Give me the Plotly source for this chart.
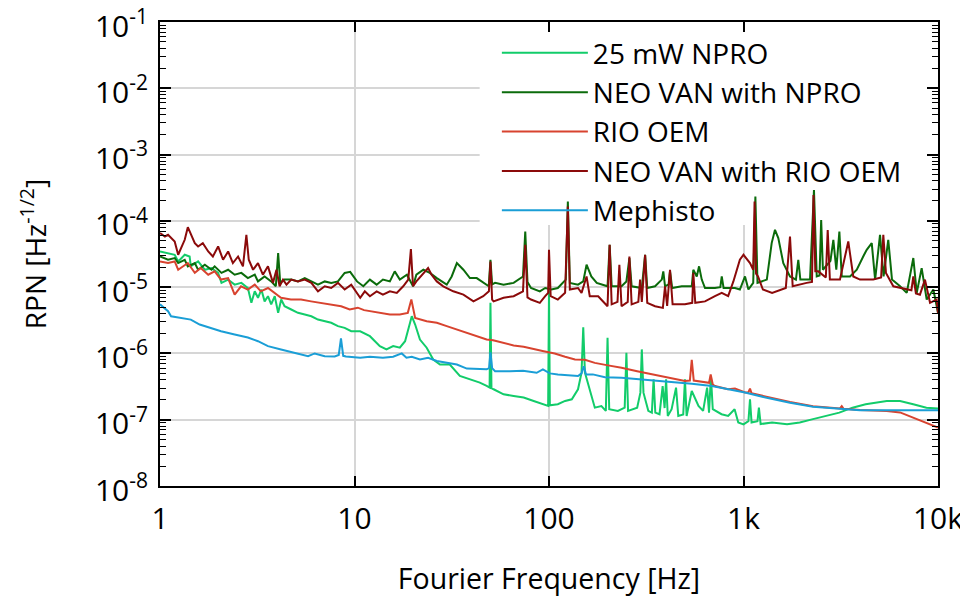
import plotly.graph_objects as go

# ---------------- data (frequency [Hz], RPN [Hz^-1/2]) ----------------
npro_25mw = [
    (1.0, 3.45e-5), (1.10, 3.27e-5), (1.19, 3.08e-5), (1.24, 2.44e-5), (1.34, 3.08e-5), (1.42, 2.9e-5),
    (1.44, 2.06e-5), (1.57, 2.44e-5), (1.70, 1.83e-5), (1.84, 1.94e-5), (1.99, 1.64e-5), (2.07, 1.16e-5),
    (2.24, 1.30e-5), (2.42, 1.09e-5), (2.62, 1.16e-5), (2.83, 9.7e-6), (2.95, 5.8e-6), (3.07, 8.65e-6),
    (3.19, 6.9e-6), (3.32, 9.2e-6), (3.45, 6.1e-6), (3.59, 7.3e-6), (3.73, 5.5e-6), (3.89, 7.3e-6),
    (4.05, 4.1e-6), (4.20, 6.5e-6), (4.37, 5.15e-6), (4.73, 4.6e-6), (5.12, 4.1e-6), (5.55, 3.86e-6),
    (6.00, 3.64e-6), (6.49, 3.24e-6), (7.03, 3.06e-6), (7.59, 2.9e-6), (8.22, 2.58e-6), (8.90, 2.43e-6),
    (9.62, 2.16e-6), (10.7, 2.16e-6), (12.0, 1.82e-6), (13.5, 1.29e-6), (14.6, 1.15e-6), (15.8, 1.29e-6),
    (17.1, 1.22e-6), (18.2, 1.53e-6), (19.3, 2.9e-6), (19.7, 3.64e-6), (20.5, 2.73e-6), (21.7, 1.62e-6),
    (23.5, 1.22e-6), (25.4, 8.1e-7), (27.5, 6.8e-7), (30.9, 6.8e-7), (34.8, 4.57e-7), (39.2, 4.07e-7),
    (44.1, 3.63e-7), (47.8, 3.23e-7), (49.5, 3.05e-7), (50.0, 5.8e-6), (50.6, 3.0e-7), (51.9, 2.88e-7),
    (58.4, 2.42e-7), (65.8, 2.28e-7), (74.1, 2.16e-7), (83.4, 1.92e-7), (93.9, 1.71e-7), (99.0, 1.62e-7),
    (100, 9.0e-6), (101, 1.65e-7), (111, 1.71e-7), (121, 1.92e-7), (131, 2.03e-7), (141, 2.88e-7),
    (147, 5.13e-7), (150, 2.48e-6), (153, 5.13e-7), (162, 2.88e-7), (172, 1.52e-7), (186, 1.61e-7),
    (196, 1.36e-7), (200, 1.72e-6), (204, 1.44e-7), (226, 1.36e-7), (245, 1.52e-7), (250, 1.02e-6),
    (255, 1.36e-7), (284, 1.52e-7), (295, 2.56e-7), (300, 1.15e-6), (306, 2.56e-7), (324, 1.36e-7),
    (338, 1.28e-7), (345, 4.07e-7), (352, 1.28e-7), (370, 1.21e-7), (384, 3.22e-7), (393, 1.5e-7),
    (400, 4.07e-7), (408, 1.14e-7), (427, 1.44e-7), (450, 3.05e-7), (462, 1.14e-7), (490, 1.2e-7),
    (500, 4.07e-7), (510, 1.14e-7), (542, 2.71e-7), (587, 1.61e-7), (620, 1.36e-7), (650, 3.05e-7),
    (665, 1.28e-7), (680, 4.56e-7), (695, 1.44e-7), (771, 1.21e-7), (834, 1.14e-7), (900, 1.44e-7),
    (940, 9.1e-8), (1000, 8.5e-8), (1060, 9.5e-8), (1080, 2.03e-7), (1100, 9.1e-8), (1180, 9.5e-8),
    (1200, 1.52e-7), (1225, 8.6e-8), (1403, 9.1e-8), (1675, 8.55e-8), (1947, 9.1e-8), (2276, 1.02e-7),
    (2660, 1.14e-7), (3109, 1.28e-7), (3634, 1.52e-7), (4247, 1.71e-7), (5450, 1.92e-7), (6380, 1.92e-7),
    (7460, 1.71e-7), (8720, 1.52e-7), (10000, 1.47e-7),
]

neo_van_npro = [
    (1.0, 2.9e-5), (1.10, 2.59e-5), (1.19, 2.75e-5), (1.24, 2.31e-5), (1.34, 2.59e-5), (1.39, 2.06e-5),
    (1.51, 2.31e-5), (1.57, 1.83e-5), (1.70, 2.18e-5), (1.84, 1.83e-5), (1.91, 2.06e-5), (2.07, 1.64e-5),
    (2.24, 1.83e-5), (2.42, 1.54e-5), (2.62, 1.64e-5), (2.83, 1.37e-5), (3.07, 1.54e-5), (3.19, 1.22e-5),
    (3.45, 1.45e-5), (3.73, 1.22e-5), (3.94, 1.03e-5), (4.05, 3.27e-5), (4.15, 1.16e-5), (4.37, 1.30e-5),
    (4.73, 1.30e-5), (5.12, 1.22e-5), (5.55, 1.37e-5), (6.00, 1.22e-5), (6.49, 1.09e-5), (7.03, 1.22e-5),
    (7.59, 1.16e-5), (8.22, 1.22e-5), (8.90, 1.64e-5), (9.5, 1.7e-5), (10.3, 1.22e-5), (11.1, 1.03e-5),
    (12.0, 1.30e-5), (13.0, 1.09e-5), (14.0, 1.30e-5), (15.2, 1.22e-5), (16.1, 1.73e-5), (17.1, 1.30e-5),
    (18.6, 1.54e-5), (20.0, 1.03e-5), (20.8, 1.54e-5), (22.6, 1.83e-5), (24.4, 1.64e-5), (26.5, 1.37e-5),
    (29.8, 1.09e-5), (31.6, 1.45e-5), (33.6, 2.31e-5), (36.3, 1.83e-5), (39.2, 1.37e-5), (42.5, 1.37e-5),
    (45.9, 1.16e-5), (49.0, 1.03e-5), (50.0, 2.59e-5), (51.0, 1.1e-5), (52.8, 1.16e-5), (58.4, 1.09e-5),
    (65.8, 1.16e-5), (73.5, 1.45e-5), (75.5, 6.9e-5), (77.5, 1.2e-5), (80.8, 9.7e-6), (89.7, 8.65e-6),
    (95.6, 9.7e-6), (103, 9.2e-6), (111, 9.7e-6), (122, 1.3e-5), (125, 1.95e-4), (128, 1.16e-5),
    (141, 1.09e-5), (150, 1.22e-5), (156, 2.18e-5), (165, 1.45e-5), (176, 1.16e-5), (186, 1.09e-5),
    (200, 1.03e-5), (205, 4.35e-5), (210, 1.03e-5), (236, 1.03e-5), (250, 1.22e-5), (259, 2.75e-5),
    (266, 1.03e-5), (300, 9.7e-6), (312, 3.08e-5), (320, 9.7e-6), (351, 1.03e-5), (380, 1.3e-5),
    (387, 1.73e-5), (395, 1.03e-5), (412, 1.1e-5), (419, 1.73e-5), (430, 9.7e-6), (481, 1.03e-5),
    (542, 1.03e-5), (552, 1.83e-5), (575, 1.45e-5), (591, 2.06e-5), (610, 1.3e-5), (634, 9.7e-6),
    (713, 9.7e-6), (760, 1.0e-5), (773, 1.45e-5), (790, 9.7e-6), (904, 9.7e-6), (958, 9.2e-6),
    (1018, 1.45e-5), (1060, 9.2e-6), (1122, 1.16e-5), (1151, 2.32e-4), (1180, 1.16e-5), (1318, 1.3e-5),
    (1396, 4.62e-5), (1452, 7.33e-5), (1510, 5.5e-5), (1602, 2.3e-5), (1734, 1.45e-5), (1860, 1.3e-5),
    (1913, 2.59e-5), (1960, 1.3e-5), (2198, 1.3e-5), (2303, 2.92e-4), (2380, 1.45e-5), (2460, 1.5e-5),
    (2508, 1.03e-4), (2560, 1.83e-5), (2800, 2.5e-5), (2897, 5.18e-5), (3000, 1.83e-5), (3111, 6.9e-5),
    (3200, 1.45e-5), (3530, 1.45e-5), (3823, 1.83e-5), (4150, 3.0e-5), (4300, 3.66e-5), (4564, 4.62e-5),
    (4750, 1.3e-5), (5033, 6.15e-5), (5250, 1.45e-5), (5550, 5.18e-5), (5800, 1.3e-5), (6383, 1.03e-5),
    (6906, 8.2e-6), (7466, 2.75e-5), (7776, 8.2e-6), (8241, 1.94e-5), (8750, 6.5e-6), (9463, 9.2e-6),
    (10000, 4.1e-6),
]

rio_oem = [
    (1.0, 2.44e-5), (1.10, 2.31e-5), (1.19, 2.44e-5), (1.24, 1.83e-5), (1.39, 2.31e-5), (1.51, 1.64e-5),
    (1.62, 1.94e-5), (1.77, 1.54e-5), (1.91, 1.73e-5), (2.06, 1.30e-5), (2.24, 1.37e-5), (2.42, 7.7e-6),
    (2.61, 1.03e-5), (2.83, 9.2e-6), (3.07, 1.09e-5), (3.30, 8.65e-6), (3.59, 9.7e-6), (3.89, 8.2e-6),
    (4.19, 6.9e-6), (4.71, 6.5e-6), (5.31, 6.5e-6), (5.98, 6.1e-6), (6.74, 5.8e-6), (7.59, 5.5e-6),
    (8.54, 5.15e-6), (9.45, 4.6e-6), (10.4, 4.9e-6), (11.2, 4.5e-6), (12.0, 4.33e-6), (13.5, 4.09e-6),
    (15.2, 3.86e-6), (17.1, 3.86e-6), (18.8, 4.09e-6), (19.6, 6.5e-6), (20.5, 3.44e-6), (23.5, 3.06e-6),
    (26.5, 2.9e-6), (29.8, 2.58e-6), (33.6, 2.3e-6), (37.8, 2.05e-6), (42.5, 1.82e-6), (47.8, 1.62e-6),
    (51.6, 1.58e-6), (58.4, 1.45e-6), (65.8, 1.32e-6), (74.1, 1.26e-6), (83.4, 1.18e-6), (93.9, 1.08e-6),
    (101, 1.03e-6), (107, 1.0e-6), (121, 8.9e-7), (136, 8.1e-7), (153, 8.0e-7), (172, 7.2e-7),
    (201, 6.6e-7), (236, 6.1e-7), (284, 5.4e-7), (324, 5.0e-7), (380, 4.57e-7), (427, 4.3e-7),
    (500, 3.84e-7), (530, 3.9e-7), (542, 8.0e-7), (555, 3.9e-7), (634, 3.63e-7), (665, 3.6e-7),
    (678, 4.83e-7), (695, 3.4e-7), (713, 3.23e-7), (832, 2.88e-7), (904, 2.95e-7), (1018, 2.57e-7),
    (1060, 2.6e-7), (1080, 2.95e-7), (1100, 2.5e-7), (1316, 2.2e-7), (1734, 1.85e-7), (2277, 1.6e-7),
    (3133, 1.48e-7), (3200, 1.6e-7), (3270, 1.46e-7), (3970, 1.4e-7), (5450, 1.35e-7), (6380, 1.29e-7),
    (7770, 1.02e-7), (10000, 7.6e-8),
]

neo_van_rio_oem = [
    (1.0, 6.53e-5), (1.06, 5.81e-5), (1.10, 6.15e-5), (1.14, 5.5e-5), (1.19, 4.89e-5), (1.24, 3.08e-5),
    (1.29, 4.11e-5), (1.34, 5.18e-5), (1.39, 8.03e-5), (1.45, 6.15e-5), (1.51, 4.62e-5), (1.57, 4.11e-5),
    (1.66, 4.62e-5), (1.77, 3.45e-5), (1.87, 2.9e-5), (1.99, 4.11e-5), (2.11, 2.59e-5), (2.24, 3.45e-5),
    (2.37, 2.31e-5), (2.52, 2.9e-5), (2.67, 2.06e-5), (2.78, 6.15e-5), (2.86, 2.59e-5), (3.01, 1.83e-5),
    (3.19, 2.31e-5), (3.38, 1.54e-5), (3.59, 2.06e-5), (3.81, 1.16e-5), (3.97, 1.83e-5), (4.12, 1.03e-5),
    (4.29, 1.3e-5), (4.47, 1.09e-5), (4.73, 1.3e-5), (5.12, 1.22e-5), (5.55, 1.3e-5), (6.00, 1.16e-5),
    (6.49, 8.65e-6), (7.03, 1.03e-5), (7.59, 9.7e-6), (8.22, 1.16e-5), (8.90, 9.2e-6), (9.62, 1.09e-5),
    (10.1, 8.65e-6), (10.7, 6.9e-6), (11.3, 8.65e-6), (12.0, 7.3e-6), (13.0, 8.65e-6), (14.0, 7.7e-6),
    (15.2, 8.65e-6), (16.5, 8.2e-6), (17.8, 1.03e-5), (18.9, 1.3e-5), (19.5, 3.75e-5), (20.0, 1.03e-5),
    (20.8, 1.22e-5), (22.6, 1.64e-5), (23.9, 1.94e-5), (24.9, 1.54e-5), (26.5, 1.22e-5), (28.6, 1.03e-5),
    (32.2, 8.65e-6), (36.3, 7.7e-6), (40.9, 6.1e-6), (45.9, 7.3e-6), (49.1, 8.65e-6), (50.0, 2.44e-5),
    (51.0, 6.5e-6), (51.9, 6.1e-6), (58.4, 6.9e-6), (65.8, 7.3e-6), (73.5, 8.65e-6), (75.5, 4.35e-5),
    (77.5, 7.0e-6), (80.8, 6.5e-6), (89.7, 5.8e-6), (95.6, 7.3e-6), (99, 8.2e-6), (100, 3.66e-5),
    (102, 7.3e-6), (111, 6.5e-6), (121, 8.2e-6), (125, 1.64e-4), (128, 9.2e-6), (141, 9.7e-6),
    (147, 8.2e-6), (156, 1.45e-5), (162, 7.3e-6), (179, 7.3e-6), (200, 5.15e-6), (205, 4.35e-5),
    (210, 5.5e-6), (225, 6.0e-6), (230, 2.18e-5), (236, 5.15e-6), (254, 6.0e-6), (259, 2.9e-5),
    (266, 5.5e-6), (288, 6.0e-6), (294, 1.3e-5), (300, 6.0e-6), (312, 3.08e-5), (320, 5.8e-6),
    (351, 5.15e-6), (385, 4.87e-6), (395, 1.03e-5), (405, 5.2e-6), (419, 1.83e-5), (432, 5.5e-6),
    (500, 5.5e-6), (545, 5.8e-6), (552, 1.64e-5), (565, 5.8e-6), (634, 6.1e-6), (713, 7.3e-6),
    (773, 8.2e-6), (834, 7.3e-6), (887, 1.22e-5), (958, 2.59e-5), (1000, 3.08e-5), (1080, 2.31e-5),
    (1122, 1.83e-5), (1140, 1.95e-4), (1160, 1.6e-5), (1188, 1.45e-5), (1258, 9.2e-6), (1403, 8.2e-6),
    (1650, 9.7e-6), (1734, 5.8e-5), (1790, 1.03e-5), (2113, 1.16e-5), (2250, 1.2e-5), (2290, 2.46e-4),
    (2340, 1.73e-5), (2425, 1.73e-5), (2650, 1.4e-5), (2710, 7.3e-5), (2780, 1.3e-5), (3133, 1.3e-5),
    (3457, 4.89e-5), (3667, 1.45e-5), (3970, 1.3e-5), (4647, 1.3e-5), (5100, 1.4e-5), (5234, 6.15e-5),
    (5400, 1.64e-5), (5893, 1.03e-5), (6906, 9.2e-6), (7300, 9.0e-6), (7466, 1.45e-5), (7700, 8.0e-6),
    (8075, 7.7e-6), (8570, 1.3e-5), (9100, 5.8e-6), (9840, 6.5e-6), (10000, 4.1e-6),
]

mephisto = [
    (1.0, 5.5e-6), (1.10, 4.33e-6), (1.14, 3.64e-6), (1.24, 3.48e-6), (1.44, 3.24e-6), (1.60, 2.73e-6),
    (1.77, 2.46e-6), (2.06, 2.16e-6), (2.42, 1.93e-6), (2.83, 1.74e-6), (3.19, 1.53e-6), (3.59, 1.29e-6),
    (4.19, 1.15e-6), (5.12, 1.0e-6), (5.77, 9.1e-7), (6.24, 1.0e-6), (7.03, 9.1e-7), (7.91, 9.0e-7),
    (8.3, 9.5e-7), (8.52, 1.68e-6), (8.75, 9.2e-7), (9.04, 9.0e-7), (10.7, 8.6e-7), (12.0, 8.9e-7),
    (14.0, 8.6e-7), (15.8, 8.9e-7), (17.5, 1.0e-6), (18.5, 8.6e-7), (19.7, 8.9e-7), (21.7, 8.1e-7),
    (23.9, 8.6e-7), (26.5, 7.7e-7), (29.8, 7.2e-7), (33.6, 6.8e-7), (37.8, 5.9e-7), (42.5, 5.75e-7),
    (47.8, 5.75e-7), (49.2, 6.0e-7), (50.0, 1.04e-6), (51.0, 6.0e-7), (52.8, 5.4e-7), (63, 5.4e-7),
    (73.5, 5.5e-7), (86.4, 5.1e-7), (93, 5.75e-7), (101, 5.0e-7), (111, 4.83e-7), (141, 4.57e-7),
    (147, 5.0e-7), (151, 6.4e-7), (155, 4.8e-7), (168, 4.83e-7), (194, 4.36e-7), (236, 4.3e-7),
    (300, 4.07e-7), (380, 3.84e-7), (460, 3.63e-7), (542, 3.5e-7), (687, 3.23e-7), (832, 2.88e-7),
    (1018, 2.57e-7), (1316, 2.14e-7), (1734, 1.8e-7), (2277, 1.57e-7), (3133, 1.47e-7), (3970, 1.39e-7),
    (5450, 1.39e-7), (7430, 1.39e-7), (10000, 1.39e-7),
]

series_names = ["25 mW NPRO", "NEO VAN with NPRO", "RIO OEM", "NEO VAN with RIO OEM", "Mephisto"]
series_colors = ["#12cc6a", "#0b6b0b", "#d8432f", "#8b0a0a", "#1a9ed6"]
series_data = [npro_25mw, neo_van_npro, rio_oem, neo_van_rio_oem, mephisto]

x_tickvals = [1, 10, 100, 1000, 10000]
x_ticktext = ["1", "10", "100", "1k", "10k"]
y_exponents = [-8, -7, -6, -5, -4, -3, -2, -1]
y_minor_ticks = [k * 10.0 ** e for e in range(-8, -1) for k in range(2, 10)]

FONT = "Open Sans"

fig = go.Figure()
for name, color, data in zip(series_names, series_colors, series_data):
    xs = [p[0] for p in data]
    ys = [p[1] for p in data]
    fig.add_trace(go.Scatter(x=xs, y=ys, mode="lines", name=name,
                             line=dict(color=color, width=2)))

# white panel behind the legend: hides the grid there, traces stay on top
fig.add_shape(type="rect", xref="x", yref="y",
              x0=44, x1=10000, y0=8.66e-5, y1=0.1,
              fillcolor="white", line=dict(width=0), layer="between")

# the page adds an 8px body margin, so the figure is 8px smaller than the window
fig.update_layout(
    width=960, height=593,
    margin=dict(l=152, r=30, t=14, b=115),
    paper_bgcolor="white", plot_bgcolor="white",
    font=dict(family=FONT, size=28, color="black"),
    legend=dict(x=0.433, y=0.987, xanchor="left", yanchor="top", bgcolor="rgba(0,0,0,0)",
                font=dict(family=FONT, size=28), itemwidth=86, tracegroupgap=0),
)

fig.update_xaxes(
    type="log", range=[0, 4], automargin=False,
    tickmode="array", tickvals=x_tickvals, ticktext=x_ticktext,
    tickfont=dict(size=30),
    ticks="inside", ticklen=10, tickwidth=1.5, tickcolor="black",
    showline=True, linecolor="black", linewidth=2, mirror="ticks",
    showgrid=True, gridcolor="#d6d6d6", gridwidth=2, zeroline=False,
    ticklabelstandoff=5, ticklabeloverflow="allow",
    title=dict(text="Fourier Frequency [Hz]", standoff=32, font=dict(size=28.5)),
)

fig.update_yaxes(
    type="log", range=[-8, -1], automargin=False,
    tickmode="array", tickvals=[10.0 ** e for e in y_exponents],
    ticktext=["10<sup>%d</sup>" % e for e in y_exponents],
    tickfont=dict(size=30),
    ticks="inside", ticklen=11, tickwidth=1.5, tickcolor="black",
    minor=dict(tickmode="array", tickvals=y_minor_ticks, ticks="inside", ticklen=6,
               tickcolor="black", tickwidth=1.2, showgrid=False),
    showline=True, linecolor="black", linewidth=2, mirror="ticks",
    showgrid=True, gridcolor="#d6d6d6", gridwidth=2, zeroline=False,
    ticklabelstandoff=4, ticklabelshift=4, ticklabeloverflow="allow",
    title=dict(text="RPN [Hz<sup>-1/2</sup>]", standoff=40, font=dict(size=28)),
)

fig.write_html("out.html")
